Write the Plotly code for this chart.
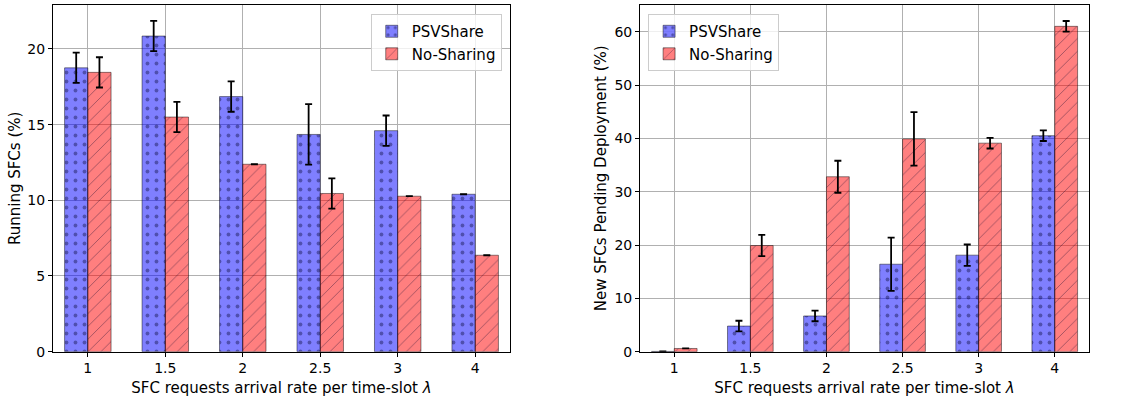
import plotly.graph_objects as go

categories = ["1", "1.5", "2", "2.5", "3", "4"]

# Left: Running SFCs (%)
run_psv = [18.75, 20.85, 16.85, 14.35, 14.6, 10.4]
run_psv_err = [1.0, 1.0, 1.0, 2.0, 1.0, 0.0]
run_ns = [18.45, 15.5, 12.38, 10.45, 10.27, 6.37]
run_ns_err = [1.0, 1.0, 0.0, 1.0, 0.0, 0.0]

# Right: New SFCs Pending Deployment (%)
pend_psv = [0.05, 4.8, 6.7, 16.4, 18.1, 40.5]
pend_psv_err = [0.0, 1.0, 1.0, 5.0, 2.0, 1.0]
pend_ns = [0.6, 19.9, 32.8, 39.9, 39.1, 61.0]
pend_ns_err = [0.0, 2.0, 3.0, 5.0, 1.0, 1.0]

BLUE = "rgba(0,0,255,0.5)"
RED = "rgba(255,0,0,0.5)"
FONT = "DejaVu Sans"

def bar(name, y, err, color, shape, xaxis, yaxis, legend):
    return go.Bar(
        name=name, x=categories, y=y, xaxis=xaxis, yaxis=yaxis, legend=legend,
        marker=dict(
            color=color,
            line=dict(color="rgba(0,0,0,0.45)", width=1),
            pattern=dict(shape=shape, fgcolor="rgba(0,0,40,0.75)", size=9,
                         solidity=0.14 if shape == "." else 0.1),
        ),
        error_y=dict(type="data", array=err, visible=True, color="black",
                     thickness=1.8, width=3.5),
    )

fig = go.Figure()
fig.add_trace(bar("PSVShare", run_psv, run_psv_err, BLUE, ".", "x", "y", "legend"))
fig.add_trace(bar("No-Sharing", run_ns, run_ns_err, RED, "/", "x", "y", "legend"))
fig.add_trace(bar("PSVShare", pend_psv, pend_psv_err, BLUE, ".", "x2", "y2", "legend2"))
fig.add_trace(bar("No-Sharing", pend_ns, pend_ns_err, RED, "/", "x2", "y2", "legend2"))

axis_common = dict(
    showline=True, linecolor="black", linewidth=1, mirror=True,
    ticks="outside", ticklen=4, tickcolor="black",
    showgrid=True, gridcolor="#b0b0b0", gridwidth=1,
    tickfont=dict(family=FONT, size=14, color="black"),
    zeroline=False, automargin=False,
)
xtitle = dict(text="SFC requests arrival rate per time-slot <i>λ</i>",
              font=dict(family=FONT, size=15, color="black"), standoff=7)

fig.update_layout(
    width=1139, height=401,
    margin=dict(l=0, r=0, t=0, b=0),
    paper_bgcolor="white", plot_bgcolor="white",
    barmode="group", bargap=0.4, bargroupgap=0.0,
    font=dict(family=FONT, color="black"),
    xaxis=dict(domain=[0.0465, 0.4478], type="category", range=[-0.45, 5.45],
               title=xtitle, anchor="y", **axis_common),
    yaxis=dict(domain=[0.123, 0.9875], range=[0, 22.9], tickvals=[0, 5, 10, 15, 20],
               title=dict(text="Running SFCs (%)", font=dict(family=FONT, size=15, color="black"),
                          standoff=3),
               anchor="x", **axis_common),
    xaxis2=dict(domain=[0.5619, 0.9561], type="category", range=[-0.45, 5.45],
                title=xtitle, anchor="y2", **axis_common),
    yaxis2=dict(domain=[0.123, 0.9875], range=[0, 65], tickvals=[0, 10, 20, 30, 40, 50, 60],
                title=dict(text="New SFCs Pending Deployment (%)",
                           font=dict(family=FONT, size=15, color="black"), standoff=4),
                anchor="x2", **axis_common),
    legend=dict(x=0.4405, y=0.965, xanchor="right", yanchor="top",
                bgcolor="rgba(255,255,255,0.8)", bordercolor="#cccccc", borderwidth=1,
                font=dict(family=FONT, size=15, color="black"), tracegroupgap=2),
    legend2=dict(x=0.569, y=0.965, xanchor="left", yanchor="top",
                 bgcolor="rgba(255,255,255,0.8)", bordercolor="#cccccc", borderwidth=1,
                 font=dict(family=FONT, size=15, color="black"), tracegroupgap=2),
)

fig.write_html("out.html")
